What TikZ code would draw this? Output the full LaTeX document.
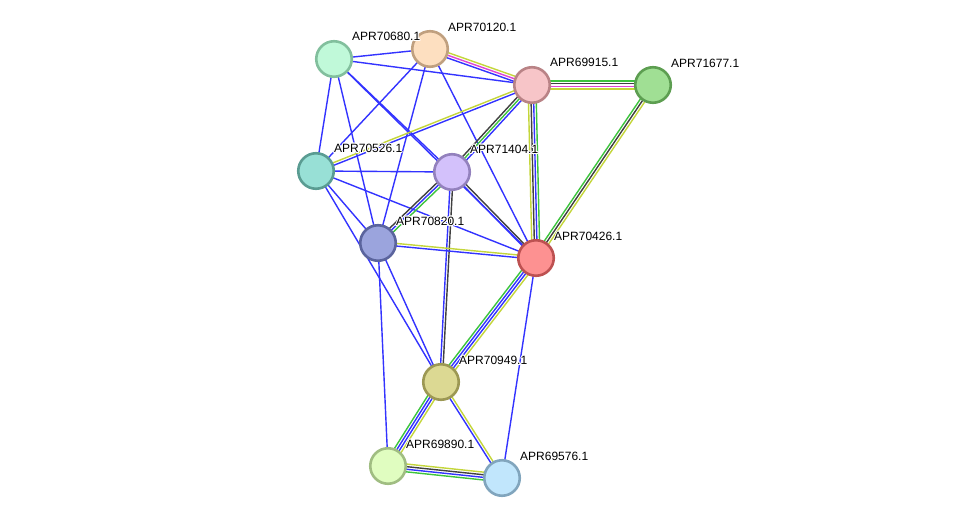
\documentclass[tikz,border=0pt]{standalone}
\usepackage{fontspec}
\setmainfont{Liberation Sans}
\usepackage[copies]{contour}
\contourlength{0.9pt}
\usetikzlibrary{calc,backgrounds}
\definecolor{eblue}{HTML}{3333FF}
\definecolor{eyel}{HTML}{C4D63A}
\definecolor{egrn}{HTML}{3DC43D}
\definecolor{eblk}{HTML}{404040}
\definecolor{emag}{HTML}{E044D4}
\tikzset{
  prot/.style={circle,minimum size=35.5pt,inner sep=0pt,line width=2.6pt},
  plabel/.style={anchor=west,inner sep=0pt,font=\fontsize{12}{14}\selectfont},
  edgeline/.style={line width=1.4pt},
}
\newcommand\ed[3]{\foreach \c/\o in {#3}{\draw[edgeline,\c] ($(#1.center)!\o pt!90:(#2.center)$) -- ($(#2.center)!\o pt!-90:(#1.center)$);}}
\newcommand\lab[1]{\contour{white}{#1}}
\begin{document}
\begin{tikzpicture}[x=1pt,y=1pt]
\useasboundingbox (0,0) rectangle (976,-524);
\node[prot,fill={rgb,255:red,192;green,249;blue,217},draw={rgb,255:red,130;green,191;blue,157}] (p680) at (334,-59) {};
\node[prot,fill={rgb,255:red,253;green,223;blue,192},draw={rgb,255:red,192;green,160;blue,127}] (p120) at (430,-49) {};
\node[prot,fill={rgb,255:red,247;green,197;blue,200},draw={rgb,255:red,185;green,131;blue,134}] (p915) at (532,-85) {};
\node[prot,fill={rgb,255:red,160;green,223;blue,148},draw={rgb,255:red,93;green,158;blue,81}] (p677) at (653,-85) {};
\node[prot,fill={rgb,255:red,152;green,224;blue,214},draw={rgb,255:red,90;green,156;blue,146}] (p526) at (316,-171) {};
\node[prot,fill={rgb,255:red,211;green,193;blue,251},draw={rgb,255:red,147;green,129;blue,189}] (p404) at (452,-172) {};
\node[prot,fill={rgb,255:red,155;green,164;blue,221},draw={rgb,255:red,91;green,100;blue,157}] (p820) at (378,-243) {};
\node[prot,fill={rgb,255:red,253;green,145;blue,145},draw={rgb,255:red,189;green,81;blue,81}] (p426) at (536,-258) {};
\node[prot,fill={rgb,255:red,220;green,217;blue,147},draw={rgb,255:red,156;green,152;blue,84}] (p949) at (441,-382) {};
\node[prot,fill={rgb,255:red,224;green,253;blue,192},draw={rgb,255:red,160;green,189;blue,130}] (p890) at (388,-466) {};
\node[prot,fill={rgb,255:red,193;green,230;blue,252},draw={rgb,255:red,129;green,165;blue,189}] (p576) at (502,-478) {};
\node[plabel] (l680) at (352,-37) {\lab{APR70680.1}};
\node[plabel] (l120) at (448,-28) {\lab{APR70120.1}};
\node[plabel] (l915) at (550,-63) {\lab{APR69915.1}};
\node[plabel] (l677) at (671,-64) {\lab{APR71677.1}};
\node[plabel] (l526) at (334,-149) {\lab{APR70526.1}};
\node[plabel] (l404) at (470,-150) {\lab{APR71404.1}};
\node[plabel] (l820) at (396,-222) {\lab{APR70820.1}};
\node[plabel] (l426) at (554,-237) {\lab{APR70426.1}};
\node[plabel] (l949) at (459,-361) {\lab{APR70949.1}};
\node[plabel] (l890) at (406,-445) {\lab{APR69890.1}};
\node[plabel] (l576) at (520,-457) {\lab{APR69576.1}};
\begin{scope}[on background layer]
\fill[white] (0,0) rectangle (976,-524);
\ed{p680}{p120}{eblue/0}
\ed{p680}{p915}{eblue/0}
\ed{p680}{p526}{eblue/0}
\ed{p680}{p820}{eblue/0}
\ed{p680}{p404}{eblue/0}
\ed{p680}{p426}{eblue/0}
\ed{p120}{p526}{eblue/0}
\ed{p120}{p820}{eblue/0}
\ed{p120}{p426}{eblue/0}
\ed{p526}{p404}{eblue/0}
\ed{p526}{p820}{eblue/0}
\ed{p526}{p426}{eblue/0}
\ed{p526}{p949}{eblue/0}
\ed{p820}{p949}{eblue/0}
\ed{p820}{p890}{eblue/0}
\ed{p426}{p576}{eblue/0}
\ed{p120}{p915}{eyel/2.6,emag/0,eblue/-2.6}
\ed{p915}{p677}{egrn/3.9,eblk/1.3,emag/-1.3,eyel/-3.9}
\ed{p915}{p426}{egrn/3.9,eblue/1.3,eblk/-1.3,eyel/-3.9}
\ed{p677}{p426}{eyel/2.6,eblk/0,egrn/-2.6}
\ed{p915}{p404}{eblk/-2.6,egrn/0,eblue/2.6}
\ed{p404}{p820}{eblk/-2.6,eblue/0,egrn/2.6}
\ed{p915}{p526}{eyel/-1.3,eblue/1.3}
\ed{p404}{p426}{eblk/1.3,eblue/-1.3}
\ed{p404}{p949}{eblk/1.3,eblue/-1.3}
\ed{p820}{p426}{eyel/1.3,eblue/-1.3}
\ed{p426}{p949}{egrn/-3.9,eblue/-1.3,eblue/1.3,eyel/3.9}
\ed{p949}{p890}{egrn/-3.9,eblue/-1.3,eblue/1.3,eyel/3.9}
\ed{p949}{p576}{eyel/1.3,eblue/-1.3}
\ed{p890}{p576}{eyel/3.9,eblk/1.3,eblue/-1.3,egrn/-3.9}
\end{scope}
\end{tikzpicture}
\end{document}
